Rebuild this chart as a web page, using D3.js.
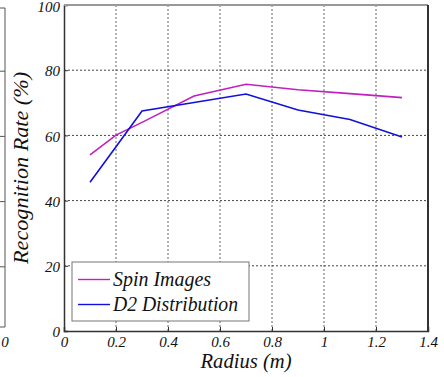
<!DOCTYPE html>
<html><head><meta charset="utf-8">
<script src="https://cdn.jsdelivr.net/npm/d3@7"></script>
<style>html,body{margin:0;padding:0;background:#fff;}svg{display:block;}</style>
</head><body>
<script>
const radius = [0.1, 0.2, 0.3, 0.5, 0.7, 0.9, 1.1, 1.3];
const spinImages = [54.0, 60.1, 64.0, 72.1, 75.7, 74.0, 72.8, 71.6];
const d2Distribution = [45.6, 56.5, 67.5, 70.1, 72.7, 67.8, 64.9, 59.5];
const seriesNames = ["Spin Images", "D2 Distribution"];
const xTicks = [0, 0.2, 0.4, 0.6, 0.8, 1, 1.2, 1.4];
const yTicks = [0, 20, 40, 60, 80, 100];
const xTitle = "Radius (m)";
const yTitle = "Recognition Rate (%)";

(function () {
const W = 444, H = 377;
const svg = d3.select("body").append("svg").attr("width", W).attr("height", H);
const pL = 64, pR = 428, pT = 5, pB = 331;
const x = d3.scaleLinear().domain([0, 1.4]).range([pL, pR]);
const y = d3.scaleLinear().domain([0, 100]).range([pB, pT]);
const font = "'Liberation Serif', serif";

// neighbouring (cropped) chart edge on the far left
const nb = svg.append("g");
nb.append("path").attr("d", `M0,8H5V327H0`).attr("fill", "none").attr("stroke", "#555").attr("stroke-width", 1);
[20, 40, 60, 80].forEach(v => nb.append("line").attr("x1", 0).attr("x2", 5).attr("y1", y(v)+1).attr("y2", y(v)+1).attr("stroke", "#555"));
nb.append("text").attr("x", 5).attr("y", 347).attr("text-anchor", "middle").attr("font-family", font).attr("font-style", "italic").attr("font-size", 15).attr("fill", "#111").text("0");

// grid
const grid = svg.append("g");
xTicks.slice(1, -1).forEach(v => grid.append("line").attr("x1", x(v)).attr("x2", x(v)).attr("y1", pT).attr("y2", pB)
  .attr("stroke", "#666").attr("stroke-dasharray", "2,2").attr("stroke-width", 1));
yTicks.slice(1, -1).forEach(v => grid.append("line").attr("x1", pL).attr("x2", pR).attr("y1", y(v)).attr("y2", y(v))
  .attr("stroke", "#444").attr("stroke-dasharray", "2,2").attr("stroke-width", 1));

// axes
const xAxis = d3.axisBottom(x).tickValues(xTicks).tickSize(-4).tickFormat(d => String(+d.toFixed(1)));
const gx = svg.append("g").attr("transform", `translate(0,${pB})`).call(xAxis);
gx.select(".domain").attr("stroke", "#333").attr("stroke-width", 1.5);
gx.selectAll(".tick line").attr("stroke", "#333");
gx.selectAll(".tick text").attr("y", 16).attr("dy", 0).attr("font-family", font).attr("font-style", "italic").attr("font-size", 15).attr("fill", "#111");

const yAxis = d3.axisLeft(y).tickValues(yTicks).tickSize(-4).tickFormat(d3.format("d"));
const gy = svg.append("g").attr("transform", `translate(${pL},0)`).call(yAxis);
gy.select(".domain").attr("stroke", "#333").attr("stroke-width", 1.5);
gy.selectAll(".tick line").attr("stroke", "#333");
gy.selectAll(".tick text").attr("x", -4).attr("dy", "0.38em").attr("font-family", font).attr("font-style", "italic").attr("font-size", 15).attr("fill", "#111");
gy.selectAll(".tick text").filter(d => d === 100).attr("dy", "0.45em");

svg.append("line").attr("x1", pL).attr("x2", pR).attr("y1", pT).attr("y2", pT).attr("stroke", "#999").attr("stroke-width", 2);
svg.append("line").attr("x1", pR).attr("x2", pR).attr("y1", pT).attr("y2", pB).attr("stroke", "#333").attr("stroke-width", 2);

// lines
const line = d3.line().x((d, i) => x(radius[i])).y(d => y(d));
const colors = ["#c020c0", "#1010dd"];
[spinImages, d2Distribution].forEach((s, k) => {
  svg.append("path").datum(s).attr("d", line).attr("fill", "none").attr("stroke", colors[k]).attr("stroke-width", 1.6);
});

// legend
const lg = svg.append("g");
lg.append("rect").attr("x", 72).attr("y", 262).attr("width", 177).attr("height", 59).attr("fill", "#fff").attr("stroke", "#777").attr("stroke-width", 1);
seriesNames.forEach((n, k) => {
  const yy = 279.5 + k * 25;
  lg.append("line").attr("x1", 78).attr("x2", 110).attr("y1", yy).attr("y2", yy).attr("stroke", colors[k]).attr("stroke-width", 1.4);
  const t = lg.append("text").attr("x", 113).attr("y", yy + 6).attr("font-family", font).attr("font-style", "italic").attr("font-size", 20).attr("fill", "#111").text(n);
  t.attr("textLength", k === 1 ? 125 : 98).attr("lengthAdjust", "spacingAndGlyphs");
});

// titles
svg.append("text").attr("x", (pL + pR) / 2).attr("y", 368).attr("text-anchor", "middle").attr("font-family", font).attr("font-style", "italic").attr("font-size", 20).attr("fill", "#111")
  .attr("textLength", 91).attr("lengthAdjust", "spacingAndGlyphs").text(xTitle);
svg.append("text").attr("transform", `translate(28,${(pT + pB) / 2}) rotate(-90)`).attr("text-anchor", "middle").attr("font-family", font).attr("font-style", "italic").attr("font-size", 20).attr("fill", "#111")
  .attr("textLength", 192).attr("lengthAdjust", "spacingAndGlyphs").text(yTitle);
})();
</script>
</body></html>
